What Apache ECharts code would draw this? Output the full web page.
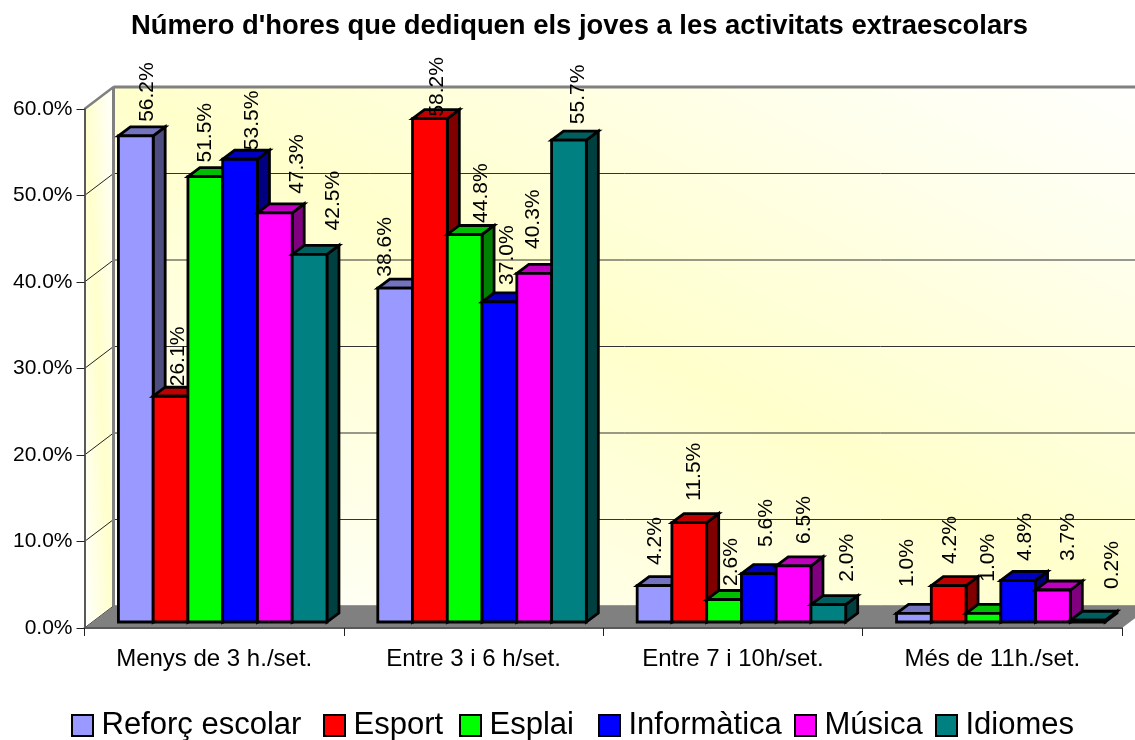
<!DOCTYPE html>
<html>
<head>
<meta charset="utf-8">
<style>html,body{margin:0;padding:0;background:#fff}#c{width:1135px;height:740px}</style>
<script src="https://cdn.jsdelivr.net/npm/echarts@6/dist/echarts.min.js"></script>
</head>
<body>
<div id="c"></div>
<script>
var titleText = "Número d'hores que dediquen els joves a les activitats extraescolars";
var categories = ['Menys de 3 h./set.', 'Entre 3 i 6 h/set.', 'Entre 7 i 10h/set.', 'Més de 11h./set.'];
var yTicks = [0, 10, 20, 30, 40, 50, 60];

var seriesNames = ['Reforç escolar', 'Esport', 'Esplai', 'Informàtica', 'Música', 'Idiomes'];
var reforc      = [56.2, 38.6, 4.2, 1.0];
var esport      = [26.1, 58.2, 11.5, 4.2];
var esplai      = [51.5, 44.8, 2.6, 1.0];
var informatica = [53.5, 37.0, 5.6, 4.8];
var musica      = [47.3, 40.3, 6.5, 3.7];
var idiomes     = [42.5, 55.7, 2.0, 0.2];
var seriesValues = [reforc, esport, esplai, informatica, musica, idiomes];

var frontColors = ['#9999FF', '#FF0000', '#00FF00', '#0000FF', '#FF00FF', '#008080'];
var topColors   = ['#7373BF', '#BF0000', '#00BF00', '#0000BF', '#BF00BF', '#006060'];
var sideColors  = ['#4D4D80', '#800000', '#008000', '#000080', '#800080', '#004040'];
var legendLefts = [71, 323, 459, 598, 794, 935];

// Label layout nudges (px) relative to the top of each bar, as placed in the reference.
var labelNudgeX = [
  [-1, -22.4, -11.5, -19.2], [-4.5, -5, -7.3, -10.7], [-12, 4.6, -5, -7.5],
  [0, -4, -5, -4.6], [10, -12.5, -1, 3.2], [12, -3, 7, 12.8]
];
var labelNudgeY = [
  [0, 2.6, -6.7, -12.3], [4, 12, -7.8, -7.7], [0, 2.5, 0.5, -17.7],
  [5, -3, -12.6, -5.5], [-5, -10.4, -7.8, -15], [-10, -2, -9, -17.3]
];

// Pseudo-3D projection styling
var WALL_DX = 29, WALL_DY = -22;
var BAR_DX = 12, BAR_DY = -9;
var BAR_SHIFT_X = 8.5, BAR_LIFT = 6, BAR_FRACTION = 0.134;
var GREY = '#808080', FONT = '"Liberation Sans", Arial, sans-serif';

// White in the top-right and bottom-left corners, yellow along the other diagonal.
function diagonalGradient(x0, y0, x1, y1) {
  var w = x1 - x0, h = y1 - y0, k = w * h / (w * w + h * h);
  var cx = (x0 + x1) / 2, cy = (y0 + y1) / 2;
  return new echarts.graphic.LinearGradient(cx - h * k, cy + w * k, cx + h * k, cy - w * k, [
    {offset: 0, color: '#FFFFFF'}, {offset: 0.5, color: '#FFFFCC'}, {offset: 1, color: '#FFFFFF'}
  ], true);
}

function plotCorners(api) {
  var half = api.size([1, 0])[0] / 2;
  var bottom = api.coord([0, 0])[1], top = api.coord([0, yTicks[yTicks.length - 1]])[1];
  var left = api.coord([0, 0])[0] - half, right = api.coord([categories.length - 1, 0])[0] + half;
  return {left: left, right: right, top: top, bottom: bottom};
}

function poly(points, fill, stroke, lineWidth, z2) {
  return {type: 'polygon', z2: z2, shape: {points: points},
    style: {fill: fill, stroke: stroke || null, lineWidth: lineWidth || 0, lineJoin: 'miter'}};
}
function line(x1, y1, x2, y2, color, w, z2) {
  return {type: 'line', z2: z2, shape: {x1: x1, y1: y1, x2: x2, y2: y2},
    style: {stroke: color, lineWidth: w}};
}

function renderWalls(params, api) {
  var p = plotCorners(api), bl = p.left + WALL_DX, br = p.right + WALL_DX;
  var bt = p.top + WALL_DY, bb = p.bottom + WALL_DY;
  return {type: 'group', children: [
    poly([[bl, bt], [br, bt], [br, bb], [bl, bb]], diagonalGradient(bl, bt, br, bb), null, 0, 0),
    poly([[p.left, p.top], [bl, bt], [bl, bb], [p.left, p.bottom]], diagonalGradient(p.left, bt, bl, p.bottom), null, 0, 0),
    poly([[p.left, p.bottom], [bl, bb], [br, bb], [p.right, p.bottom]], GREY, null, 0, 2),
    line(bl, bt, br, bt, GREY, 3, 2),
    line(bl, bt, bl, bb, GREY, 3, 2),
    line(p.left, p.top, bl, bt, GREY, 2.5, 2)
  ]};
}

function renderGrid(params, api) {
  var p = plotCorners(api), y = api.coord([0, api.value(0)])[1];
  return {type: 'group', children: [
    line(p.left, y, p.left + WALL_DX, y + WALL_DY, '#222', 1, 1),
    line(p.left + WALL_DX, y + WALL_DY, p.right + WALL_DX, y + WALL_DY, '#333', 1, 1)
  ]};
}

function makeBarRenderer(s) {
  return function (params, api) {
    var cat = api.value(0), val = api.value(1);
    var c = api.coord([cat, val]);
    var band = api.size([1, 0])[0], bw = band * BAR_FRACTION;
    var x0 = c[0] + BAR_SHIFT_X - 3 * bw + s * bw, x1 = x0 + bw;
    var yt = c[1] - BAR_LIFT, yb = api.coord([cat, 0])[1] - BAR_LIFT;
    var stroke = '#000', lw = 2.8, z = 10 + s;
    return {type: 'group', children: [
      poly([[x1, yt], [x1 + BAR_DX, yt + BAR_DY], [x1 + BAR_DX, yb + BAR_DY], [x1, yb]], sideColors[s], stroke, lw, z),
      poly([[x0, yt], [x0 + BAR_DX, yt + BAR_DY], [x1 + BAR_DX, yt + BAR_DY], [x1, yt]], topColors[s], stroke, lw, z),
      poly([[x0, yt], [x1, yt], [x1, yb], [x0, yb]], frontColors[s], stroke, lw, z),
      {type: 'text', z2: 100, rotation: Math.PI / 2,
        x: x0 + bw / 2 + BAR_DX + labelNudgeX[s][cat],
        y: yt + BAR_DY - 5 + labelNudgeY[s][cat],
        style: {text: val.toFixed(1) + '%', fill: '#000', font: '21px ' + FONT,
          align: 'left', verticalAlign: 'middle'}}
    ]};
  };
}

var series = [
  {type: 'custom', name: '_walls', silent: true, z: 0, clip: false, data: [[0, 0]], encode: {x: 0, y: 1}, renderItem: renderWalls},
  {type: 'custom', name: '_grid', silent: true, z: 0, clip: false,
    data: yTicks.map(function (t) { return [t]; }), encode: {y: 0}, renderItem: renderGrid}
];
seriesNames.forEach(function (name, s) {
  series.push({
    type: 'custom', name: name, z: 2, clip: false,
    itemStyle: {color: frontColors[s], borderColor: '#000', borderWidth: 2},
    encode: {x: 0, y: 1},
    data: seriesValues[s].map(function (v, i) { return [i, v]; }),
    renderItem: makeBarRenderer(s)
  });
});

var chart = echarts.init(document.getElementById('c'), null, {renderer: 'canvas'});
chart.setOption({
  animation: false,
  backgroundColor: '#fff',
  title: {text: titleText, left: 131, top: 13, padding: 0,
    textStyle: {fontFamily: FONT, fontSize: 27.4, fontWeight: 'bold', color: '#000'}},
  tooltip: {show: false},
  grid: {left: 84.5, top: 109, width: 1037.5, height: 519, containLabel: false},
  legend: seriesNames.map(function (name, s) {
    return {data: [name], left: legendLefts[s], top: 710, padding: 0, icon: 'rect',
      itemWidth: 21, itemHeight: 21, selectedMode: false,
      itemStyle: {borderColor: '#000', borderWidth: 2},
      textStyle: {fontFamily: FONT, fontSize: 31, color: '#000', padding: [0, 0, 0, 3.5]}};
  }),
  xAxis: {type: 'category', data: categories, z: 1,
    axisLine: {show: true, lineStyle: {color: '#595959', width: 2}},
    axisTick: {show: true, length: 8, alignWithLabel: false, lineStyle: {color: '#222', width: 1}},
    axisLabel: {interval: 0, margin: 19, fontFamily: FONT, fontSize: 24, color: '#000'},
    splitLine: {show: false}},
  yAxis: {type: 'value', min: 0, max: 60, interval: 10, z: 1,
    axisLine: {show: true, lineStyle: {color: '#595959', width: 2}},
    axisTick: {show: true, length: 8, lineStyle: {color: '#222', width: 1}},
    axisLabel: {margin: 12, fontFamily: FONT, fontSize: 21, color: '#000', padding: [3, 0, 0, 0],
      formatter: function (v) { return v.toFixed(1) + '%'; }},
    splitLine: {show: false}},
  series: series
});
</script>
</body>
</html>
